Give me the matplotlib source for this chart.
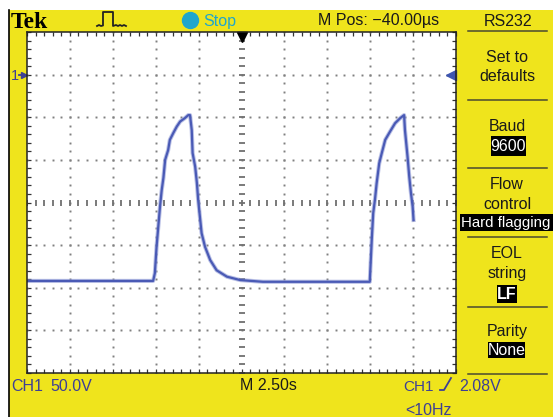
import numpy as np
import matplotlib.pyplot as plt
from matplotlib.lines import Line2D
from matplotlib.patches import Rectangle

# CH1 trace, in screen divisions (x: 0..10 at 2.50 s/div, y: -4..4 at 50.0 V/div)
trace_x = [0.00, 1.50, 2.94, 2.98, 3.02, 3.06, 3.10, 3.14, 3.18, 3.22, 3.29, 3.33,
           3.41, 3.49, 3.57, 3.68, 3.76, 3.80, 3.84, 3.86, 3.92, 3.96, 3.99, 4.03,
           4.07, 4.15, 4.27, 4.42, 4.66, 4.97, 5.50, 6.50, 7.99, 8.01, 8.04, 8.07,
           8.11, 8.15, 8.21, 8.27, 8.35, 8.46, 8.58, 8.70, 8.79, 8.81, 8.87, 8.91,
           8.95, 8.99, 9.01]
trace_y = [-1.84, -1.84, -1.84, -1.66, -1.04, -0.57, -0.10, 0.29, 0.58, 1.00, 1.23, 1.47,
           1.63, 1.78, 1.90, 1.98, 2.05, 2.05, 1.70, 1.16, 0.84, 0.46, 0.06, -0.33,
           -0.72, -1.04, -1.35, -1.59, -1.74, -1.82, -1.86, -1.86, -1.86, -1.43, -0.80, -0.25,
           0.06, 0.45, 0.92, 1.16, 1.47, 1.66, 1.86, 1.98, 2.05, 1.70, 1.08, 0.61,
           0.22, -0.10, -0.41]
ground_level = 3.0      # "1" marker
trigger_level = 3.0     # right arrow
trigger_pos = 5.0       # top arrow

menu_title = "RS232"

W, H = 553, 417
YEL = '#efe41c'
BLUE = '#3d3f95'
TRACE = '#4a5ab5'
INK = '#1a1a1a'
FONT = ['Liberation Sans', 'DejaVu Sans']

fig = plt.figure(figsize=(W / 100, H / 100), dpi=100)
fig.patch.set_facecolor('white')


def fx(x):
    return x / W


def fy(y):
    return 1 - y / H


def put(x, y, s, **kw):
    kw.setdefault('family', FONT)
    kw.setdefault('fontsize', 11.5)
    kw.setdefault('va', 'baseline')
    kw.setdefault('zorder', 5)
    fig.text(fx(x), fy(y), s, **kw)


def line(xs, ys, **kw):
    kw.setdefault('zorder', 5)
    fig.add_artist(Line2D([fx(v) for v in xs], [fy(v) for v in ys],
                          transform=fig.transFigure, **kw))


def box(x0, y0, x1, y1, color, z=4):
    fig.add_artist(Rectangle((fx(x0), fy(y1)), (x1 - x0) / W, (y1 - y0) / H,
                             transform=fig.transFigure, color=color, lw=0, zorder=z))


# yellow frame
box(9, 10, W, H, YEL, z=-2)
line([9, 9], [10, H], color='black', lw=1.2, zorder=-1)

# screen
ax = fig.add_axes([fx(27), fy(373), 429 / W, 341 / H])
ax.set_zorder(1)
ax.set_facecolor('white')
ax.set_xlim(0, 10)
ax.set_ylim(-4, 4)
ax.set_xticks(np.arange(0, 10.01, 1))
ax.set_yticks(np.arange(-4, 4.01, 1))
ax.set_xticks(np.arange(0, 10.01, 0.2), minor=True)
ax.set_yticks(np.arange(-4, 4.01, 0.2), minor=True)
ax.tick_params(which='both', direction='in', length=3, width=0.9, color='#333333',
               top=True, right=True, labelbottom=False, labelleft=False)
for sp in ax.spines.values():
    sp.set_color('#222222')
    sp.set_linewidth(1.1)

fine = np.arange(0, 10.01, 0.2)
fine_y = np.arange(-4, 4.01, 0.2)
for gx in range(1, 10):
    if gx == 5:
        continue
    ax.plot(np.full_like(fine_y, gx), fine_y, ls='none', marker='s', ms=1.4,
            color='#808080', mew=0)
for gy in range(-3, 4):
    if gy == 0:
        continue
    ax.plot(fine, np.full_like(fine, gy), ls='none', marker='s', ms=1.4,
            color='#808080', mew=0)
ax.plot(fine, np.zeros_like(fine), ls='none', marker='|', ms=4, mew=1.3, color='#707070')
ax.plot(np.full_like(fine_y, 5), fine_y, ls='none', marker='_', ms=4, mew=1.3, color='#707070')

# trace
ax.plot(trace_x, trace_y, color='#8d98d6', lw=3.0, alpha=0.6, solid_joinstyle='round')
ax.plot(trace_x, trace_y, color=TRACE, lw=1.6, solid_joinstyle='round')

# markers
ax.plot([trigger_pos], [3.88], marker='v', ms=7, color='black', clip_on=False)
ax.plot([10.0 - 0.11], [trigger_level], marker='<', ms=7, color='#3d55b0', clip_on=False)
ax.plot([-0.08], [ground_level], marker='>', ms=5, color=BLUE, clip_on=False)
line([19, 25], [74.6, 74.6], color=BLUE, lw=1.3)
put(11, 79.5, '1', color=BLUE, fontsize=10.5)

# top bar
put(11, 28.5, 'Tek', family=['Liberation Serif', 'DejaVu Serif'], fontsize=17,
    fontweight='bold', color='black')
line([97, 99, 101, 103, 103, 113, 113, 116, 118, 120, 122, 124, 126],
     [26, 25, 26, 25.5, 12, 12, 26, 25, 26, 25, 26, 25, 26], color='#222222', lw=1.3)
line([190], [19.5], marker='o', ms=11.5, color='#1fa6cc', ls='none')
put(203, 26, 'Stop', color='#1fa6cc')
put(318, 25, 'M Pos: \u221240.00\u00b5s', color=INK)
put(508, 26, menu_title, ha='center', color=INK)

# side menu
seps = [31, 100, 168, 237, 307, 374]
for s in seps:
    line([468, 547], [s, s], color='#4a4a30', lw=1.1)
put(507, 62, 'Set to', ha='center', color=INK)
put(507, 81, 'defaults', ha='center', color=INK)
put(507, 131, 'Baud', ha='center', color=INK)
box(491, 136, 526, 156, 'black')
put(508, 151, '9600', ha='center', color='white')
put(507, 189, 'Flow', ha='center', color=INK)
put(507, 209, 'control', ha='center', color=INK)
box(460, 214, W, 231, 'black')
put(506, 227, 'Hard flagging', ha='center', color='white', fontsize=10.8)
put(507, 258, 'EOL', ha='center', color=INK)
put(507, 278, 'string', ha='center', color=INK)
box(497, 285, 517, 303, 'black')
put(507, 299, 'LF', ha='center', color='white', fontweight='bold')
put(507, 336, 'Parity', ha='center', color=INK)
box(488, 342, 525, 358, 'black')
put(507, 355, 'None', ha='center', color='white')

# bottom bar
put(11, 391, 'CH1', color=BLUE)
put(50, 391, '50.0V', color=BLUE)
put(240, 390, 'M 2.50s', color=INK)
put(403, 391, 'CH1', color=BLUE, fontsize=11)
line([440, 444, 451], [390, 390, 378], color=BLUE, lw=1.3)
put(459, 391, '2.08V', color=BLUE)
put(405, 415, '<10Hz', color=BLUE)

fig.savefig('out.png', dpi=100)
